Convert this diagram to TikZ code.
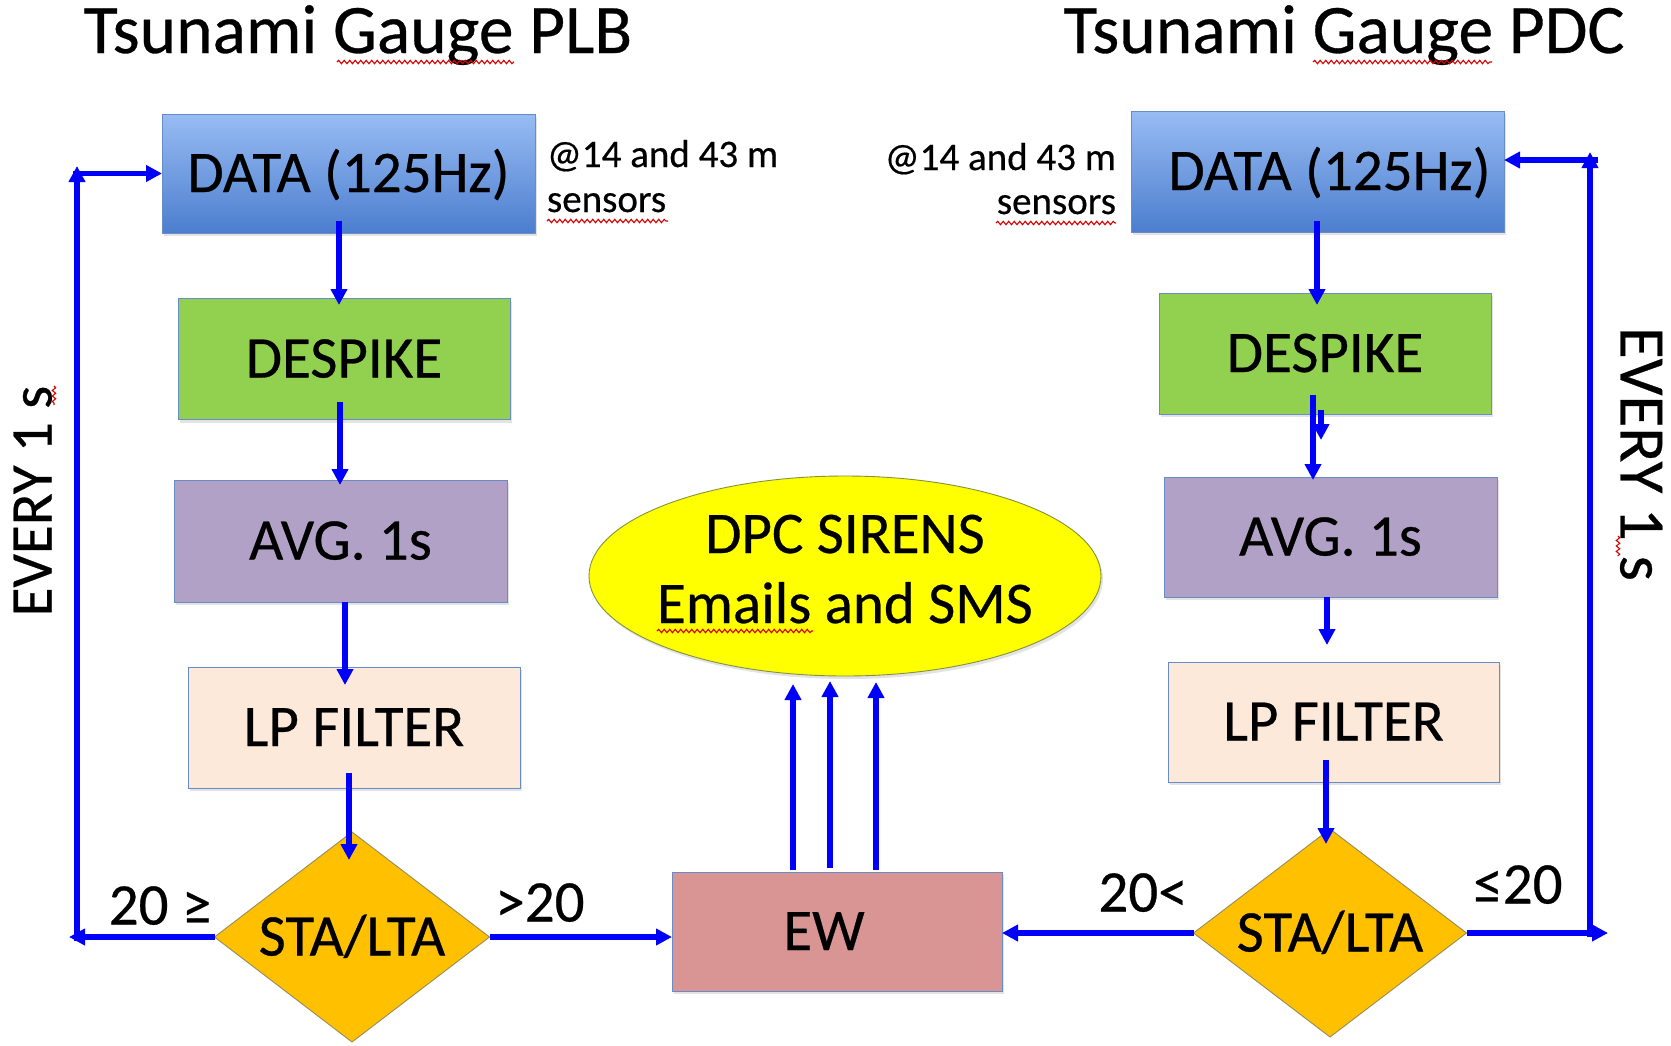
\documentclass[tikz,border=0pt]{standalone}
\usepackage{fontspec}
\setmainfont{Carlito}[FakeBold=0.45]
\usetikzlibrary{shapes.geometric,arrows.meta,shadows,decorations.pathmorphing,calc}

\definecolor{flowblue}{RGB}{0,0,250}
\definecolor{datatop}{RGB}{152,188,244}
\definecolor{databot}{RGB}{76,126,206}
\definecolor{despikegreen}{RGB}{146,208,80}
\definecolor{avgviolet}{RGB}{178,161,199}
\definecolor{lppeach}{RGB}{252,233,218}
\definecolor{stagold}{RGB}{255,192,0}
\definecolor{ewpink}{RGB}{217,149,148}
\definecolor{sirenyellow}{RGB}{255,255,0}
\definecolor{boxedge}{RGB}{104,140,200}
\definecolor{goldedge}{RGB}{150,140,90}
\definecolor{yellowedge}{RGB}{130,145,60}

\begin{document}
\begin{tikzpicture}[x=1pt,y=-1pt,
  every node/.style={inner sep=0pt, outer sep=0pt},
  bigtext/.style={font=\fontsize{59}{70}\selectfont, text height=37pt, text depth=0pt},
  softshadow/.style={drop shadow={shadow xshift=2pt, shadow yshift=-3pt, opacity=0.22}},
  procbox/.style={rectangle, draw=boxedge, line width=0.9pt, bigtext, softshadow,
    minimum width=332pt, minimum height=121pt},
  databox/.style={procbox, minimum width=373pt, top color=datatop, bottom color=databot},
  decision/.style={diamond, aspect=1.31, draw=goldedge, line width=0.9pt, fill=stagold,
    bigtext, minimum width=275pt, minimum height=209pt},
  titletext/.style={font=\fontsize{69.5}{82}\selectfont, anchor=base},
  notetext/.style={font=\fontsize{39}{47}\selectfont},
  condtext/.style={bigtext},
  flow/.style={draw=flowblue, line width=5.5pt, -{Triangle[length=16pt,width=16pt]}},
  squiggle/.style={draw=red!85!black, line width=1.1pt, decorate,
    decoration={snake, amplitude=1.7pt, segment length=5.5pt}},
]
\useasboundingbox (0,0) rectangle (1671,1045);
\fill[white] (0,0) rectangle (1671,1045);

% ---------- titles ----------
\node[titletext] (titleL) at (358,53) {Tsunami Gauge PLB};
\node[titletext] (titleR) at (1344,53) {Tsunami Gauge PDC};

% ---------- PLB chain ----------
\node[databox, minimum height=119pt] (dataL) at (348.5,173.5) {DATA (125Hz)};
\node[procbox, fill=despikegreen] (despL) at (344,359) {DESPIKE};
\node[procbox, fill=avgviolet, minimum width=333pt, minimum height=122pt] (avgL) at (340.5,541) {AVG. 1s};
\node[procbox, fill=lppeach] (lpL) at (354,727.5) {LP FILTER};
\node[decision, minimum height=210pt] (staL) at (352,937) {STA/LTA};

% ---------- PDC chain ----------
\node[databox] (dataR) at (1317.5,171.5) {\hspace*{24pt}DATA (125Hz)};
\node[procbox, fill=despikegreen] (despR) at (1325,353.5) {DESPIKE};
\node[procbox, fill=avgviolet, minimum width=333pt, minimum height=120pt] (avgR) at (1330.5,537) {AVG. 1s};
\node[procbox, fill=lppeach, minimum width=331pt, minimum height=120pt] (lpR) at (1333.5,722) {LP FILTER};
\node[decision, minimum width=273pt, minimum height=208pt] (staR) at (1330,933) {STA/LTA};

% ---------- early warning and alerts ----------
\node[procbox, fill=ewpink, minimum width=330pt, minimum height=119pt] (ew) at (837,931.5) {EW\hspace*{26pt}};
\node[ellipse, draw=yellowedge, line width=0.9pt, fill=sirenyellow, softshadow,
      minimum width=512pt, minimum height=200pt] (sirens) at (845,576) {};
\node[font=\fontsize{59}{70}\selectfont, anchor=base] (sirensA) at (845,553) {DPC SIRENS};
\node[font=\fontsize{59}{70}\selectfont, anchor=base] (sirensB) at (845,623) {Emails and SMS};

% ---------- sensor notes ----------
\node[notetext, anchor=base west] (noteLa) at (547,167) {@14 and 43 m};
\node[notetext, anchor=base west] (noteLb) at (547,212) {sensors};
\node[notetext, anchor=base east] (noteRa) at (1116,170) {@14 and 43 m};
\node[notetext, anchor=base east] (noteRb) at (1116,214) {sensors};

% ---------- loop labels ----------
\node[bigtext, rotate=90] (everyL) at (33,501) {EVERY 1 s};
\node[bigtext, font=\fontsize{65}{78}\selectfont, text height=41pt, rotate=-90] (everyR) at (1641,454) {EVERY 1 s};

% ---------- threshold labels ----------
\node[condtext] (condLa) at (160,906) {20 ≥};
\node[condtext] (condLb) at (540,903) {>20};
\node[condtext] (condRa) at (1143,893) {20<};
\node[condtext] (condRb) at (1518,885) {≤20};

% ---------- PLB flow ----------
\draw[flow] ($(dataL.south)+(-9.5,-12)$) -- ($(despL.north)+(-5,6.5)$);
\draw[flow] ($(despL.south)+(-4,-17.5)$) -- ($(avgL.north)+(-0.5,5)$);
\draw[flow] ($(avgL.south)+(4.5,0)$) -- ($(lpL.north)+(-9,18)$);
\draw[flow] ($(lpL.south)+(-5,-15)$) -- ($(staL.north)+(-3,28)$);

% PLB feedback loop
\coordinate (loopLa) at (69,937);
\coordinate (loopLb) at (77,941);
\coordinate (loopLc) at (77,166);
\coordinate (loopLd) at (73,173.5);
\draw[flow] (staL.west) -- (loopLa);
\draw[flow] (loopLb) -- (loopLc);
\draw[flow] (loopLd) -- (dataL.west);

% ---------- PDC flow ----------
\draw[flow] ($(dataR.south)+(-0.5,-11)$) -- ($(despR.north)+(-8,12)$);
\draw[flow] ($(despR.south)+(-12,-19)$) -- ($(avgR.north)+(-17.5,3)$);
\draw[flow] ($(despR.south)+(-4,-4)$) -- ($(despR.south)+(-4,26)$);
\draw[flow] ($(avgR.south)+(-3.5,0)$) -- ($(lpR.north)+(-6.5,-17)$);
\draw[flow] ($(lpR.south)+(-7.5,-22)$) -- ($(staR.north)+(-4,15)$);

% PDC feedback loop
\coordinate (loopRa) at (1608,933);
\coordinate (loopRb) at (1590,937);
\coordinate (loopRc) at (1590,152);
\coordinate (loopRd) at (1598,160);
\draw[flow] (staR.east) -- (loopRa);
\draw[flow] (loopRb) -- (loopRc);
\draw[flow] (loopRd) -- ($(dataR.east)+(0,-11.5)$);

% ---------- decisions into EW ----------
\draw[flow] (staL.east) -- (staL.east -| ew.west);
\draw[flow] (staR.west) -- (staR.west -| ew.east);

% ---------- EW to alerts ----------
\draw[flow] ($(ew.north)+(-44,-2)$) -- ($(sirens.south)+(-52,8)$);
\draw[flow] ($(ew.north)+(-7,-4)$) -- ($(sirens.south)+(-15,5)$);
\draw[flow] ($(ew.north)+(39,-2)$) -- ($(sirens.south)+(31,6)$);

% ---------- spell-check underlines ----------
\draw[squiggle] (337,62) -- (514,62);
\draw[squiggle] (1313,62) -- (1492,62);
\draw[squiggle] (547,221) -- (668,221);
\draw[squiggle] (996,223) -- (1116,223);
\draw[squiggle] (657,631) -- (813,631);
\draw[squiggle] (54,386) -- (54,405);
\draw[squiggle] (1618,536) -- (1618,556);
\end{tikzpicture}
\end{document}
